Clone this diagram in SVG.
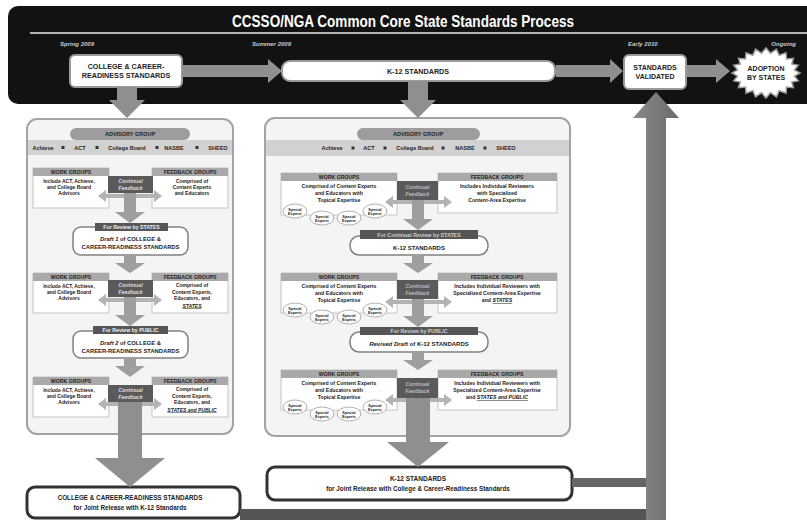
<svg xmlns="http://www.w3.org/2000/svg" width="807" height="520" viewBox="0 0 807 520">
<defs>
<style>
.t{font-family:"Liberation Sans",Arial,sans-serif;font-weight:bold;text-anchor:middle;fill:#222}
.w{fill:#fff}
.it{font-style:italic}
.date{font-family:"Liberation Sans",Arial,sans-serif;font-style:italic;font-size:6px;fill:#ccc;font-weight:bold}
.hbox{fill:#fff;stroke:#9a9a9a;stroke-width:2}
.panel{fill:#f4f4f4;stroke:#a3a3a3;stroke-width:2}
.pill{fill:#9d9d9d}
.band{fill:#d2d2d2}
.gbox{fill:#fff;stroke:#c4c4c4;stroke-width:1}
.ghead{fill:#a9a9a9}
.cf{fill:#5a5a5a}
.bar{fill:#565656}
.rbox{fill:#fff;stroke:#808080;stroke-width:1.5}
.oval{fill:#fff;stroke:#9a9a9a;stroke-width:0.8}
.fbox{fill:#fff;stroke:#333;stroke-width:3}
.arr{fill:#8f8f8f}
.sarr{fill:#9e9e9e}
.darr{fill:#b3b3b3}
.sq{fill:#333}
.u{text-decoration:underline;font-style:italic}
</style>
<linearGradient id="vg" x1="0" y1="0" x2="1" y2="0">
<stop offset="0" stop-color="#8a8a8a"/><stop offset="0.5" stop-color="#7a7a7a"/><stop offset="1" stop-color="#6a6a6a"/>
</linearGradient>
<g id="se"><ellipse class="oval" cx="0" cy="0" rx="12" ry="7"/><text class="t" font-size="3.8" y="-0.5">Special</text><text class="t" font-size="3.8" y="3.8">Experts</text></g>
</defs>
<rect width="807" height="520" fill="#fff"/>

<g id="header">
<rect x="8" y="6" width="820" height="98" rx="10" fill="#121212"/>
<text class="t w" x="403" y="27" font-size="16" textLength="342" lengthAdjust="spacingAndGlyphs" style="fill:#fff">CCSSO/NGA Common Core State Standards Process</text>
<line x1="30" y1="33" x2="807" y2="33" stroke="#b5b5b5" stroke-width="2"/>
<text class="date" x="60" y="46">Spring 2009</text>
<text class="date" x="252" y="46">Summer 2009</text>
<text class="date" x="628" y="46">Early 2010</text>
<text class="date" x="796" y="46" text-anchor="end">Ongoing</text>
</g>

<g id="node-ccr">
<rect class="hbox" x="70" y="55" width="112" height="32" rx="5"/>
<text class="t" x="126" y="69" font-size="7.2">COLLEGE &amp; CAREER-</text>
<text class="t" x="126" y="78" font-size="7.2">READINESS STANDARDS</text>
</g>
<g id="node-k12">
<rect class="hbox" x="282" y="61" width="273" height="20" rx="8"/>
<text class="t" x="418" y="73.5" font-size="7.2">K-12 STANDARDS</text>
</g>
<g id="node-validated">
<rect class="hbox" x="624" y="55" width="62" height="34" rx="5"/>
<text class="t" x="655" y="70" font-size="7">STANDARDS</text>
<text class="t" x="655" y="79" font-size="7">VALIDATED</text>
</g>
<g id="node-adoption">
<polygon points="800,73 794.6,76.1 798.3,80.7 791.8,82.1 793.5,87.7 786.5,87.1 786,93.2 779.2,90.8 776.5,96.8 770.5,92.8 766,98 761.5,92.8 755.5,96.8 752.8,90.8 746,93.2 745.5,87.1 738.5,87.7 740.2,82.1 733.7,80.7 737.4,76.1 732,73 737.4,69.9 733.7,65.3 740.2,63.9 738.5,58.3 745.5,58.9 746,52.8 752.8,55.2 755.5,49.2 761.5,53.2 766,48 770.5,53.2 776.5,49.2 779.2,55.2 786,52.8 786.5,58.9 793.5,58.3 791.8,63.9 798.3,65.3 794.6,69.9" fill="#fff" stroke="#9a9a9a" stroke-width="1.5"/>
<text class="t" x="766" y="71" font-size="7">ADOPTION</text>
<text class="t" x="766" y="80" font-size="7">BY STATES</text>
</g>

<g id="panel-ccr">
<rect class="panel" x="27" y="119" width="206" height="315" rx="10"/>
<rect class="pill" x="70" y="128" width="120" height="12" rx="6"/>
<text class="t" x="130" y="136.3" font-size="5.5">ADVISORY GROUP</text>
<rect class="band" x="28" y="140" width="204" height="15"/>
<g font-size="5.5">
<text class="t" x="43" y="149.8">Achieve</text><rect class="sq" x="61.5" y="146" width="3" height="3"/>
<text class="t" x="80" y="149.8">ACT</text><rect class="sq" x="95.5" y="146" width="3" height="3"/>
<text class="t" x="127" y="149.8">College Board</text><rect class="sq" x="155.5" y="146" width="3" height="3"/>
<text class="t" x="174" y="149.8">NASBE</text><rect class="sq" x="195.5" y="146" width="3" height="3"/>
<text class="t" x="218" y="149.8">SHEEO</text>
</g>

<g id="ccr-wg1"><rect class="gbox" x="33" y="168" width="76" height="40"/><rect class="ghead" x="33" y="168" width="76" height="8"/>
<text class="t" x="71" y="174.2" font-size="5.2">WORK GROUPS</text>
<text class="t" x="69" y="183" font-size="5">Include ACT, Achieve,</text><text class="t" x="69" y="189" font-size="5">and College Board</text><text class="t" x="69" y="195" font-size="5">Advisors</text></g>
<g id="ccr-fb1"><rect class="gbox" x="152" y="168" width="76" height="40"/><rect class="ghead" x="152" y="168" width="76" height="8"/>
<text class="t" x="190" y="174.2" font-size="5.2">FEEDBACK GROUPS</text>
<text class="t" x="192" y="183" font-size="5">Comprised of</text><text class="t" x="192" y="189" font-size="5">Content Experts</text><text class="t" x="192" y="195" font-size="5">and Educators</text></g>
<g id="ccr-cf1"><rect class="cf" x="108" y="176" width="45" height="17"/>
<text class="t w it" x="130.5" y="183" font-size="5.3" style="fill:#ddd">Continual</text><text class="t w it" x="130.5" y="190" font-size="5.3" style="fill:#ddd">Feedback</text></g>
<g id="ccr-review1"><rect class="rbox" x="73" y="227" width="115" height="28" rx="8"/><rect class="bar" x="95" y="223" width="73" height="8"/>
<text class="t" x="131.5" y="229.3" font-size="5.2" style="fill:#eee">For Review by STATES</text>
<text class="t" x="130.5" y="240.5" font-size="5.8"><tspan class="it">Draft 1</tspan> of COLLEGE &amp;</text>
<text class="t" x="130.5" y="248.5" font-size="5.8">CAREER-READINESS STANDARDS</text></g>

<g id="ccr-wg2"><rect class="gbox" x="33" y="273" width="76" height="40"/><rect class="ghead" x="33" y="273" width="76" height="8"/>
<text class="t" x="71" y="279.2" font-size="5.2">WORK GROUPS</text>
<text class="t" x="69" y="288" font-size="5">Include ACT, Achieve,</text><text class="t" x="69" y="294" font-size="5">and College Board</text><text class="t" x="69" y="300" font-size="5">Advisors</text></g>
<g id="ccr-fb2"><rect class="gbox" x="152" y="273" width="76" height="40"/><rect class="ghead" x="152" y="273" width="76" height="8"/>
<text class="t" x="190" y="279.2" font-size="5.2">FEEDBACK GROUPS</text>
<text class="t" x="192" y="287" font-size="5">Comprised of</text><text class="t" x="192" y="293.5" font-size="5">Content Experts,</text><text class="t" x="192" y="300" font-size="5">Educators, and</text><text class="t u" x="192" y="307.5" font-size="5">STATES</text></g>
<g id="ccr-cf2"><rect class="cf" x="108" y="280" width="45" height="17"/>
<text class="t w it" x="130.5" y="287" font-size="5.3" style="fill:#ddd">Continual</text><text class="t w it" x="130.5" y="294" font-size="5.3" style="fill:#ddd">Feedback</text></g>
<g id="ccr-review2"><rect class="rbox" x="73" y="331" width="115" height="27" rx="8"/><rect class="bar" x="93" y="326" width="75" height="8"/>
<text class="t" x="130.5" y="332.3" font-size="5.2" style="fill:#eee">For Review by PUBLIC</text>
<text class="t" x="130.5" y="344.5" font-size="5.8"><tspan class="it">Draft 2</tspan> of COLLEGE &amp;</text>
<text class="t" x="130.5" y="352.5" font-size="5.8">CAREER-READINESS STANDARDS</text></g>

<g id="ccr-wg3"><rect class="gbox" x="33" y="377" width="76" height="40"/><rect class="ghead" x="33" y="377" width="76" height="8"/>
<text class="t" x="71" y="383.2" font-size="5.2">WORK GROUPS</text>
<text class="t" x="69" y="392" font-size="5">Include ACT, Achieve,</text><text class="t" x="69" y="398" font-size="5">and College Board</text><text class="t" x="69" y="404" font-size="5">Advisors</text></g>
<g id="ccr-fb3"><rect class="gbox" x="152" y="377" width="76" height="40"/><rect class="ghead" x="152" y="377" width="76" height="8"/>
<text class="t" x="190" y="383.2" font-size="5.2">FEEDBACK GROUPS</text>
<text class="t" x="192" y="391" font-size="5">Comprised of</text><text class="t" x="192" y="397.5" font-size="5">Content Experts,</text><text class="t" x="192" y="404" font-size="5">Educators, and</text><text class="t u" x="192" y="411.5" font-size="5">STATES and PUBLIC</text></g>
<g id="ccr-cf3"><rect class="cf" x="108" y="385" width="45" height="17"/>
<text class="t w it" x="130.5" y="392" font-size="5.3" style="fill:#ddd">Continual</text><text class="t w it" x="130.5" y="399" font-size="5.3" style="fill:#ddd">Feedback</text></g>
</g>

<g id="panel-k12">
<rect class="panel" x="265" y="118" width="305" height="318" rx="10"/>
<rect class="pill" x="357" y="128" width="123" height="12" rx="6"/>
<text class="t" x="418" y="136.3" font-size="5.5">ADVISORY GROUP</text>
<rect class="band" x="266" y="140" width="303" height="16"/>
<g font-size="5.5">
<text class="t" x="332" y="150.3">Achieve</text><rect class="sq" x="351.5" y="146.5" width="3" height="3"/>
<text class="t" x="369" y="150.3">ACT</text><rect class="sq" x="383.5" y="146.5" width="3" height="3"/>
<text class="t" x="415" y="150.3">College Board</text><rect class="sq" x="441.5" y="146.5" width="3" height="3"/>
<text class="t" x="465" y="150.3">NASBE</text><rect class="sq" x="483.5" y="146.5" width="3" height="3"/>
<text class="t" x="506" y="150.3">SHEEO</text>
</g>

<g id="k12-wg1"><rect class="gbox" x="281" y="173" width="116" height="42"/><rect class="ghead" x="281" y="173" width="116" height="8"/>
<text class="t" x="339" y="179.2" font-size="5.2">WORK GROUPS</text>
<text class="t" x="339" y="188" font-size="5.2">Comprised of Content Experts</text><text class="t" x="339" y="195" font-size="5.2">and Educators with</text><text class="t" x="339" y="202" font-size="5.2">Topical Expertise</text>
<use href="#se" x="295" y="211"/><use href="#se" x="322" y="218"/><use href="#se" x="349" y="218"/><use href="#se" x="375" y="211"/></g>
<g id="k12-fb1"><rect class="gbox" x="438" y="173" width="119" height="40"/><rect class="ghead" x="438" y="173" width="119" height="8"/>
<text class="t" x="497" y="179.2" font-size="5.2">FEEDBACK GROUPS</text>
<text class="t" x="497" y="188" font-size="5.2">Includes Individual Reviewers</text><text class="t" x="497" y="195" font-size="5.2">with Specialized</text><text class="t" x="497" y="202" font-size="5.2">Content-Area Expertise</text></g>
<g id="k12-cf1"><rect class="cf" x="397" y="181" width="41" height="19"/>
<text class="t w it" x="417.5" y="189" font-size="5.2" style="fill:#bbb">Continual</text><text class="t w it" x="417.5" y="196" font-size="5.2" style="fill:#bbb">Feedback</text></g>
<g id="k12-review1"><rect class="rbox" x="350" y="236" width="138" height="19" rx="9"/><rect class="bar" x="360" y="230" width="118" height="9"/>
<text class="t" x="419" y="236.8" font-size="5.3" style="fill:#ccc">For Continual Review by STATES</text>
<text class="t" x="419" y="249.5" font-size="6">K-12 STANDARDS</text></g>

<g id="k12-wg2"><rect class="gbox" x="281" y="273" width="116" height="40"/><rect class="ghead" x="281" y="273" width="116" height="8"/>
<text class="t" x="339" y="279.2" font-size="5.2">WORK GROUPS</text>
<text class="t" x="339" y="287.5" font-size="5.2">Comprised of Content Experts</text><text class="t" x="339" y="294.5" font-size="5.2">and Educators with</text><text class="t" x="339" y="301.5" font-size="5.2">Topical Expertise</text>
<use href="#se" x="295" y="310"/><use href="#se" x="322" y="317"/><use href="#se" x="349" y="317"/><use href="#se" x="375" y="310"/></g>
<g id="k12-fb2"><rect class="gbox" x="438" y="273" width="119" height="40"/><rect class="ghead" x="438" y="273" width="119" height="8"/>
<text class="t" x="497" y="279.2" font-size="5.2">FEEDBACK GROUPS</text>
<text class="t" x="497" y="288" font-size="5.2">Includes Individual Reviewers with</text><text class="t" x="497" y="295" font-size="5.2">Specialized Content-Area Expertise</text><text class="t" x="497" y="302" font-size="5.2">and <tspan class="u">STATES</tspan></text></g>
<g id="k12-cf2"><rect class="cf" x="397" y="280" width="41" height="19"/>
<text class="t w it" x="417.5" y="288" font-size="5.2" style="fill:#bbb">Continual</text><text class="t w it" x="417.5" y="295" font-size="5.2" style="fill:#bbb">Feedback</text></g>
<g id="k12-review2"><rect class="rbox" x="350" y="332" width="138" height="20" rx="9"/><rect class="bar" x="360" y="327" width="118" height="8"/>
<text class="t" x="419" y="333.3" font-size="5.3" style="fill:#ccc">For Review by PUBLIC</text>
<text class="t" x="419" y="346" font-size="6"><tspan class="it">Revised Draft</tspan> of K-12 STANDARDS</text></g>

<g id="k12-wg3"><rect class="gbox" x="281" y="370" width="116" height="40"/><rect class="ghead" x="281" y="370" width="116" height="8"/>
<text class="t" x="339" y="376.2" font-size="5.2">WORK GROUPS</text>
<text class="t" x="339" y="384.5" font-size="5.2">Comprised of Content Experts</text><text class="t" x="339" y="391.5" font-size="5.2">and Educators with</text><text class="t" x="339" y="398.5" font-size="5.2">Topical Expertise</text>
<use href="#se" x="295" y="407"/><use href="#se" x="322" y="414"/><use href="#se" x="349" y="414"/><use href="#se" x="375" y="407"/></g>
<g id="k12-fb3"><rect class="gbox" x="438" y="370" width="119" height="40"/><rect class="ghead" x="438" y="370" width="119" height="8"/>
<text class="t" x="497" y="376.2" font-size="5.2">FEEDBACK GROUPS</text>
<text class="t" x="497" y="385" font-size="5.2">Includes Individual Reviewers with</text><text class="t" x="497" y="392" font-size="5.2">Specialized Content-Area Expertise</text><text class="t" x="497" y="399" font-size="5.2">and <tspan class="u">STATES and PUBLIC</tspan></text></g>
<g id="k12-cf3"><rect class="cf" x="397" y="378" width="41" height="20"/>
<text class="t w it" x="417.5" y="386" font-size="5.2" style="fill:#bbb">Continual</text><text class="t w it" x="417.5" y="393" font-size="5.2" style="fill:#bbb">Feedback</text></g>
</g>

<g id="node-ccr-final">
<rect class="fbox" x="27" y="487" width="213" height="31" rx="8"/>
<text class="t" x="130" y="500" font-size="6.3">COLLEGE &amp; CAREER-READINESS STANDARDS</text>
<text class="t" x="130" y="510" font-size="6.3">for Joint Release with K-12 Standards</text>
</g>
<g id="node-k12-final">
<rect class="fbox" x="267" y="467" width="305" height="33" rx="8"/>
<text class="t" x="418" y="481" font-size="6.5">K-12 STANDARDS</text>
<text class="t" x="418" y="491" font-size="6.3">for Joint Release with College &amp; Career-Readiness Standards</text>
</g>

<g id="connectors">
<path class="arr" d="M182 65H268V59L282 71L268 83V77H182Z"/>
<path class="arr" d="M556 65H610V59L623 71L610 83V77H556Z"/>
<path class="arr" d="M687 65H716V59L730 71L716 83V77H687Z"/>
<path class="arr" d="M117 87H137V100H145L127 118L109 100H117Z"/>
<path class="arr" d="M408 81H428V100H436L418 118L400 100H408Z"/>

<path class="darr" d="M98 196L106 190V194H154V190L162 196L154 202V198H106V202Z"/>
<path class="darr" d="M98 300L106 294V298H154V294L162 300L154 306V302H106V306Z"/>
<path class="darr" d="M98 404L106 398V402H154V398L162 404L154 410V406H106V410Z"/>
<path class="sarr" d="M124 193H136V212H145L130 223L115 212H124Z"/>
<path class="sarr" d="M124 255H136V263H145L130 273L115 263H124Z"/>
<path class="sarr" d="M124 297H136V315H145L130 326L115 315H124Z"/>
<path class="sarr" d="M124 358H136V366H145L130 377L115 366H124Z"/>
<path class="arr" d="M118 402H142V458H165L130 487L95 458H118Z"/>

<path class="darr" d="M385 202L393 196V200H444V196L452 202L444 208V204H393V208Z"/>
<path class="darr" d="M385 302L393 296V300H444V296L452 302L444 308V304H393V308Z"/>
<path class="darr" d="M385 400L393 394V398H444V394L452 400L444 406V402H393V406Z"/>
<path class="sarr" d="M412 200H424V219H433L418 230L403 219H412Z"/>
<path class="sarr" d="M412 255H424V263H433L418 273L403 263H412Z"/>
<path class="sarr" d="M412 299H424V316H433L418 327L403 316H412Z"/>
<path class="sarr" d="M412 352H424V360H433L418 370L403 360H412Z"/>
<path class="arr" d="M406 398H430V442H449L418 467L387 442H406Z"/>

<rect x="572" y="478" width="76" height="9" fill="#666"/>
<rect x="240" y="509" width="408" height="11" fill="#555"/>
<path fill="url(#vg)" d="M646 520V118H633L656 92L679 118H666V520Z"/>
</g>
</svg>
